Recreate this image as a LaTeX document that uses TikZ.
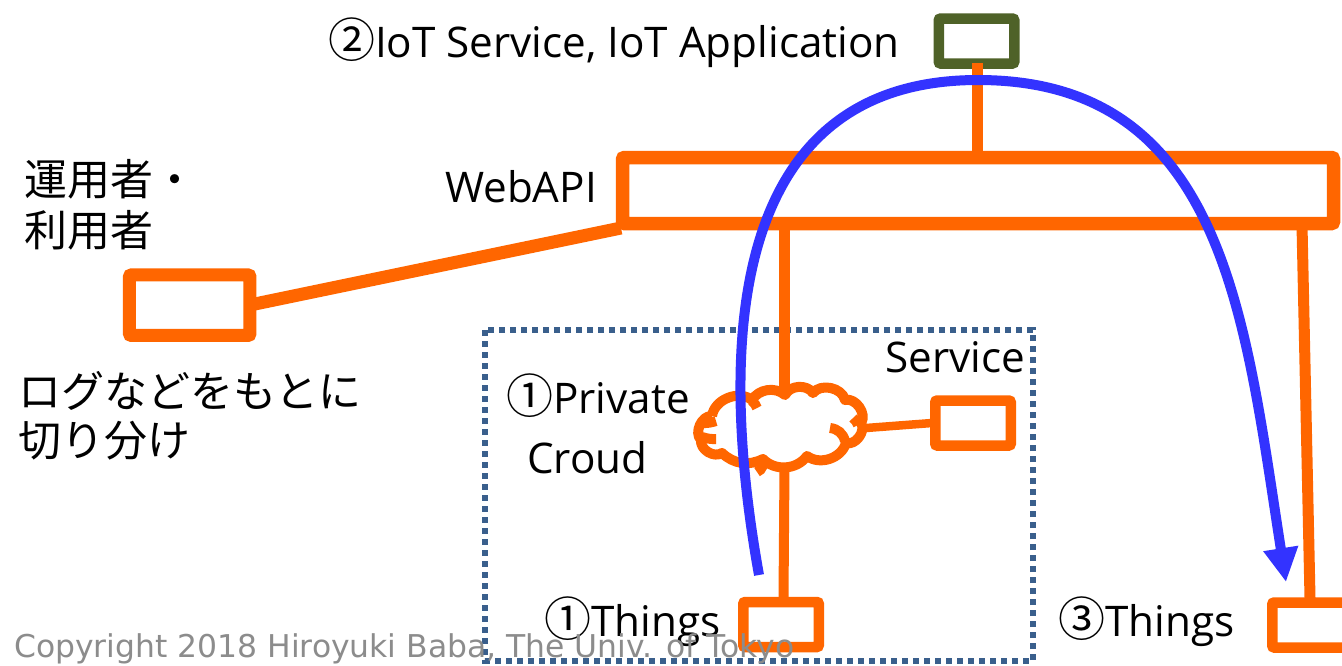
\documentclass[tikz,border=0pt]{standalone}
\usepackage{fontspec}
\setmainfont{Open Sans}
\newfontfamily\jpfont{Noto Sans CJK JP}
\newfontfamily\copyfont{DejaVu Sans}
\usetikzlibrary{arrows.meta}
\definecolor{linkorange}{HTML}{FF6600}
\definecolor{flowblue}{HTML}{3333FF}
\definecolor{appgreen}{HTML}{4F6228}
\definecolor{zoneblue}{HTML}{3A5F8C}
\newcommand{\numsign}[1]{{\fontsize{47}{47}\selectfont\jpfont #1}}
\begin{document}
\begin{tikzpicture}[x=1pt,y=-1pt,>=Stealth,
    link/.style={draw=linkorange,line width=11pt},
    thinbox/.style={draw=linkorange,line width=10.5pt,rounded corners=2pt,minimum width=75.5pt,minimum height=45pt,inner sep=0pt},
    label/.style={anchor=west,inner sep=0pt,font=\fontsize{42.2}{50}\selectfont},
    jplabel/.style={anchor=west,inner sep=0pt,font=\fontsize{43}{50}\selectfont\jpfont}]
    \useasboundingbox (0,0) rectangle (1342,665);
    \fill[white] (0,0) rectangle (1342,665);
    % boxes
    \node[thinbox,draw=appgreen] (app) at (976.5,41) {};
    \node[thinbox,line width=13.5pt,minimum width=711pt,minimum height=66pt] (webapi) at (978,190.5) {};
    \node[thinbox,line width=13pt,minimum width=120.5pt,minimum height=60.5pt] (user) at (189.7,305.2) {};
    \node[thinbox] (service) at (973,423) {};
    \node[thinbox] (thingsa) at (781,624.5) {};
    \node[thinbox] (thingsb) at (1310,625) {};
    \node[inner sep=0pt,minimum width=165pt,minimum height=70pt] (cloud) at (780,428) {};
    % private zone
    \draw[zoneblue,line width=6.5pt,dash pattern=on 6pt off 5pt] (485,330) rectangle (1033,661);
    % ports on the bar
    \coordinate (porttop) at (977,153);
    \coordinate (portleft) at (621,228);
    \coordinate (portmid) at (784,225);
    \coordinate (portright) at (1302,225);
    \coordinate (appfoot) at (977,63);
    \coordinate (userport) at (250,305);
    \coordinate (cloudtop) at (784,395);
    \coordinate (cloudfoot) at (784.5,466);
    \coordinate (cloudport) at (866,428);
    \coordinate (servport) at (932,423);
    \coordinate (thingsatop) at (783.5,598);
    \coordinate (thingsbtop) at (1310,598);
    \draw[link] (appfoot)--(porttop);
    \draw[link,line width=13pt] (userport)--(portleft);
    \draw[link] (portmid)--(cloudtop);
    \draw[link] (portright)--(thingsbtop);
    \draw[link,line width=10pt] (cloudfoot)--(thingsatop);
    \draw[link,line width=8.5pt] (cloudport)--(servport);
    % cloud
    \draw[linkorange,line width=10pt,fill=white,line join=round]
        (712,416) to[bend left=60] (752,400) to[bend left=50] (785,395)
        to[bend left=60] (813,393) to[bend left=65] (845,400)
        to[bend left=70] (861,423) to[bend left=70] (846,443)
        to[bend left=55] (807,456) to[bend left=50] (763,459)
        to[bend left=35] (722,453) to[bend left=65] (701,440)
        to[bend left=70] (712,416);
    \draw[linkorange,line width=10pt]
        (830,428) to[bend left=35] (845,441)
        (853,418) to[bend left=15] (858,425)
        (702,423) to[bend right=10] (716,421)
        (702,437) to[bend right=10] (716,439)
        (752,401) to[bend left=15] (757,408)
        (757,472) to[bend right=50] (762,458);
    % flow
    \draw[->,flowblue,line width=10pt,>={Triangle[length=34pt,width=33pt]}]
        (759,575) .. controls (715,330) and (735,80) .. (978,80)
        .. controls (1225,80) and (1245,320) .. (1286,582);
    % labels
    \node[label] (applabel) at (328,43) {\numsign{②}IoT Service, IoT Application};
    \node[label] (apilabel) at (445,187) {WebAPI};
    \node[jplabel] (userlabela) at (24,179) {運用者・};
    \node[jplabel] (userlabelb) at (24,230) {利用者};
    \node[jplabel] (loglabela) at (18,391) {ログなどをもとに};
    \node[jplabel] (loglabelb) at (18,441) {切り分け};
    \node[label] (privlabela) at (506,396) {\numsign{①}Private};
    \node[label] (privlabelb) at (527,458) {Croud};
    \node[label] (servlabel) at (885,357) {Service};
    \node[label] (thingslabela) at (544,622) {\numsign{①}Things};
    \node[label] (thingslabelb) at (1058,622) {\numsign{③}Things};
    \node[anchor=west,inner sep=0pt,text=black!45,font=\fontsize{31.4}{38}\selectfont\copyfont] (copy) at (14,649) {Copyright 2018 Hiroyuki Baba, The Univ. of Tokyo};
\end{tikzpicture}
\end{document}
